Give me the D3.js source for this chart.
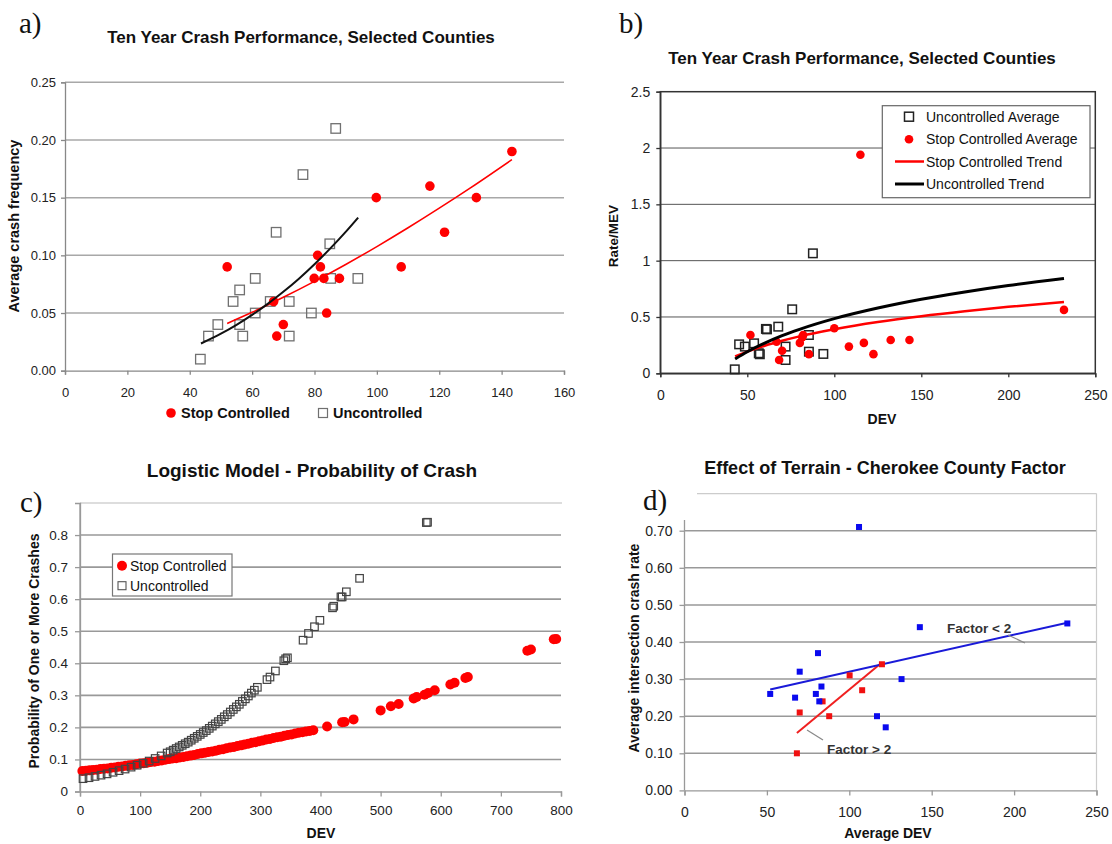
<!DOCTYPE html>
<html><head><meta charset="utf-8">
<script src="https://cdn.jsdelivr.net/npm/d3@7"></script>
<style>body{margin:0;background:#fff}</style></head>
<body>
<script>
// ---------- Panel a data ----------
const aStopX = [52, 66.9, 67.9, 70, 79.9, 81, 81.9, 83, 83.9, 88, 99.8, 107.8, 117, 121.7, 131.9, 143.3];
const aStopY = [0.09, 0.06, 0.03, 0.04, 0.08, 0.10, 0.09, 0.08, 0.05, 0.08, 0.15, 0.09, 0.16, 0.12, 0.15, 0.19];
const aUncX = [43.4, 46, 49, 53.9, 56, 56, 57, 61, 61, 65.8, 67.7, 71.9, 71.9, 76.3, 79, 84.9, 85.2, 86.8, 93.9];
const aUncY = [0.01, 0.03, 0.04, 0.06, 0.07, 0.04, 0.03, 0.08, 0.05, 0.06, 0.12, 0.06, 0.03, 0.17, 0.05, 0.11, 0.08, 0.21, 0.08];
const aStopTrendX = [52, 60, 70, 80, 90, 100, 110, 120, 130, 143.3];
const aStopTrendY = [0.041, 0.0506, 0.0636, 0.0774, 0.0921, 0.1076, 0.1239, 0.1409, 0.1585, 0.183];
const aUncTrendX = [43.6, 50, 55, 60, 65, 70, 75, 80, 85, 90, 94];
const aUncTrendY = [0.0236, 0.0321, 0.0398, 0.0484, 0.0579, 0.0684, 0.0798, 0.0923, 0.1058, 0.1203, 0.1327];
const aXTicks = [0, 20, 40, 60, 80, 100, 120, 140, 160];
const aYTicks = [0, 0.05, 0.10, 0.15, 0.20, 0.25];

// ---------- Panel b data ----------
const bUncX = [42.8, 45.3, 48.6, 53.9, 56.6, 57.2, 60.7, 61.3, 67.8, 72, 72, 75.8, 85.4, 85.4, 87.7, 93.7];
const bUncY = [0.035, 0.257, 0.237, 0.266, 0.178, 0.169, 0.394, 0.39, 0.414, 0.237, 0.118, 0.568, 0.34, 0.192, 1.065, 0.172];
const bStopX = [51.8, 66.8, 68.3, 70, 80.2, 81.6, 82.1, 85.4, 100, 108.4, 115, 117, 122.5, 132.4, 143.2, 232];
const bStopY = [0.34, 0.28, 0.118, 0.2, 0.27, 0.32, 0.34, 0.17, 0.40, 0.237, 1.94, 0.27, 0.17, 0.296, 0.296, 0.563];
const bTrendX = [43, 50, 60, 70, 80, 100, 125, 150, 175, 200, 232];
const bUncTrendY = [0.127, 0.191, 0.268, 0.334, 0.390, 0.485, 0.579, 0.657, 0.722, 0.779, 0.842];
const bStopTrendY = [0.15, 0.193, 0.245, 0.289, 0.328, 0.391, 0.455, 0.507, 0.551, 0.590, 0.632];
const bXTicks = [0, 50, 100, 150, 200, 250];
const bYTicks = [0, 0.5, 1, 1.5, 2, 2.5];
const bLegend = ["Uncontrolled Average", "Stop Controlled Average", "Stop Controlled Trend", "Uncontrolled Trend"];

// ---------- Panel c data ----------
const cStopX = [4, 10, 16, 22, 28, 34, 40, 46, 52, 58, 64, 70, 76, 82, 88, 94, 100, 106, 112, 118, 124, 130, 136, 142, 148, 154, 160, 166, 172, 178, 184, 190, 196, 202, 208, 214, 220, 226, 232, 238, 244, 250, 256, 262, 268, 274, 280, 286, 292, 298, 304, 310, 316, 322, 328, 334, 340, 346, 352, 358, 364, 370, 376, 382, 388,
  411, 436, 440, 455, 500, 517, 530, 555, 560, 573, 579, 590, 616, 623, 641, 645, 744, 750, 788, 792];
const cStopY = [0.064, 0.065, 0.066, 0.067, 0.068, 0.070, 0.071, 0.072, 0.074, 0.075, 0.077, 0.078, 0.080, 0.082, 0.083, 0.085, 0.087, 0.088, 0.090, 0.092, 0.093, 0.095, 0.097, 0.099, 0.101, 0.103, 0.104, 0.106, 0.108, 0.110, 0.112, 0.114, 0.117, 0.119, 0.121, 0.123, 0.125, 0.127, 0.130, 0.132, 0.135, 0.137, 0.139, 0.142, 0.144, 0.147, 0.149, 0.152, 0.154, 0.157, 0.159, 0.162, 0.164, 0.167, 0.169, 0.171, 0.174, 0.176, 0.178, 0.181, 0.183, 0.185, 0.187, 0.189, 0.191,
  0.203, 0.216, 0.217, 0.225, 0.253, 0.266, 0.273, 0.290, 0.295, 0.302, 0.307, 0.316, 0.334, 0.339, 0.354, 0.357, 0.439, 0.443, 0.475, 0.476];
const cUncX = [5, 15, 25, 35, 45, 55, 65, 75, 85, 95, 105, 115, 125, 135, 145, 150, 155, 160, 165, 170, 175, 180, 185, 190, 195, 200, 205, 210, 215, 220, 225, 230, 235, 240, 245, 250, 255, 260, 265, 270, 275, 280, 285, 290, 295,
  311, 316, 325, 339, 342, 345, 371, 380, 390, 399, 420, 422, 434, 436, 443, 465, 576, 578];
const cUncY = [0.040, 0.043, 0.047, 0.051, 0.055, 0.060, 0.065, 0.070, 0.076, 0.082, 0.088, 0.095, 0.103, 0.111, 0.120, 0.124, 0.129, 0.134, 0.139, 0.144, 0.149, 0.154, 0.160, 0.166, 0.172, 0.178, 0.184, 0.190, 0.197, 0.204, 0.211, 0.218, 0.225, 0.233, 0.240, 0.248, 0.256, 0.264, 0.272, 0.281, 0.289, 0.298, 0.307, 0.316, 0.325,
  0.349, 0.357, 0.376, 0.408, 0.414, 0.417, 0.472, 0.493, 0.514, 0.534, 0.573, 0.578, 0.607, 0.607, 0.623, 0.665, 0.839, 0.840];
const cXTicks = [0, 100, 200, 300, 400, 500, 600, 700, 800];
const cYTicks = [0, 0.1, 0.2, 0.3, 0.4, 0.5, 0.6, 0.7, 0.8];

// ---------- Panel d data ----------
const dBlueX = [52, 67.1, 69.9, 81, 79.7, 83.1, 81.8, 105.9, 116.8, 122.1, 131.7, 142.8, 232.3];
const dBlueY = [0.26, 0.25, 0.32, 0.37, 0.26, 0.28, 0.24, 0.71, 0.20, 0.17, 0.30, 0.44, 0.45];
const dRedX = [68.2, 69.9, 83.8, 87.8, 100.2, 107.8, 119.8];
const dRedY = [0.10, 0.21, 0.24, 0.20, 0.31, 0.27, 0.34];
const dBlueTrendX = [52, 232.3];
const dBlueTrendY = [0.272, 0.452];
const dRedTrendX = [68.2, 119.8];
const dRedTrendY = [0.155, 0.345];
const dXTicks = [0, 50, 100, 150, 200, 250];
const dYTicks = [0, 0.1, 0.2, 0.3, 0.4, 0.5, 0.6, 0.7];

// ---------- drawing ----------
const RED = "#ff0000";
const svg = d3.select("body").append("svg")
  .attr("width", 1112).attr("height", 844)
  .style("font-family", '"Liberation Sans", Arial, sans-serif');

const zip = (xs, ys) => xs.map((v, i) => [v, ys[i]]);

function grid(g, x, y, ticks, color, width) {
  g.append("g").selectAll("line").data(ticks.filter(t => t > 0)).join("line")
    .attr("x1", x.range()[0]).attr("x2", x.range()[1])
    .attr("y1", d => y(d)).attr("y2", d => y(d))
    .attr("stroke", color).attr("stroke-width", width);
}
function axis(g, gen, tx, ty, color, fs) {
  const a = g.append("g").attr("transform", `translate(${tx},${ty})`).call(gen);
  a.attr("font-family", null).attr("font-size", null);
  a.select(".domain").attr("stroke", color).attr("stroke-width", 1.3);
  a.selectAll(".tick line").attr("stroke", color).attr("stroke-width", 1.3);
  a.selectAll(".tick text").attr("fill", "#222").style("font-size", fs + "px");
  return a;
}
function text(g, x, y, s, o = {}) {
  const t = g.append("text").attr("x", x).attr("y", y).text(s)
    .attr("text-anchor", o.anchor || "middle")
    .attr("dominant-baseline", "central")
    .style("font-size", (o.size || 13) + "px")
    .style("font-weight", o.bold ? "bold" : "normal")
    .attr("fill", o.fill || "#111");
  if (o.rot) t.attr("transform", `rotate(-90,${x},${y})`);
  if (o.serif) t.style("font-family", '"Liberation Serif", "DejaVu Serif", serif');
  return t;
}
function squares(g, pts, x, y, size, stroke, fill, sw) {
  g.append("g").selectAll("rect").data(pts).join("rect")
    .attr("x", d => x(d[0]) - size / 2).attr("y", d => y(d[1]) - size / 2)
    .attr("width", size).attr("height", size)
    .attr("fill", fill).attr("stroke", stroke).attr("stroke-width", sw);
}
function circles(g, pts, x, y, r, fill) {
  g.append("g").selectAll("circle").data(pts).join("circle")
    .attr("cx", d => x(d[0])).attr("cy", d => y(d[1])).attr("r", r).attr("fill", fill);
}
function line(g, pts, x, y, color, w, curve) {
  g.append("path").datum(pts)
    .attr("d", d3.line().x(d => x(d[0])).y(d => y(d[1])).curve(curve || d3.curveMonotoneX))
    .attr("fill", "none").attr("stroke", color).attr("stroke-width", w);
}

// ===== Panel a =====
{
  const g = svg.append("g");
  const x = d3.scaleLinear().domain([0, 160]).range([65, 564]);
  const y = d3.scaleLinear().domain([0, 0.25]).range([370.7, 82.3]);
  grid(g, x, y, aYTicks, "#a8a8a8", 1.5);
  axis(g, d3.axisLeft(y).tickValues(aYTicks).tickFormat(d3.format(".2f")).tickSize(4).tickPadding(5), x(0), 0, "#888", 13);
  axis(g, d3.axisBottom(x).tickValues(aXTicks).tickSize(4).tickPadding(13), 0, y(0), "#888", 13);
  squares(g, zip(aUncX, aUncY), x, y, 9.5, "#707070", "none", 1.3);
  circles(g, zip(aStopX, aStopY), x, y, 4.8, RED);
  line(g, zip(aStopTrendX, aStopTrendY), x, y, RED, 1.6);
  line(g, zip(aUncTrendX, aUncTrendY), x, y, "#111", 2);
  text(g, 19, 23, "a)", { anchor: "start", size: 29, serif: true });
  text(g, 301, 37, "Ten Year Crash Performance, Selected Counties", { bold: true, size: 17 });
  text(g, 14, 226, "Average crash frequency", { bold: true, size: 14.5, rot: true });
  g.append("circle").attr("cx", 171).attr("cy", 413).attr("r", 4.8).attr("fill", RED);
  text(g, 181, 413, "Stop Controlled", { anchor: "start", bold: true, size: 14.5 });
  g.append("rect").attr("x", 318.5).attr("y", 408.5).attr("width", 9).attr("height", 9).attr("fill", "none").attr("stroke", "#707070").attr("stroke-width", 1.2);
  text(g, 333, 413, "Uncontrolled", { anchor: "start", bold: true, size: 14.5 });
}

// ===== Panel b =====
{
  const g = svg.append("g");
  const x = d3.scaleLinear().domain([0, 250]).range([660.3, 1095.3]);
  const y = d3.scaleLinear().domain([0, 2.5]).range([373.3, 91.7]);
  grid(g, x, y, bYTicks.filter(t => t < 2.5), "#555", 1);
  axis(g, d3.axisLeft(y).tickValues(bYTicks).tickFormat(d3.format("")).tickSize(4).tickPadding(6), x(0), 0, "#333", 14);
  axis(g, d3.axisBottom(x).tickValues(bXTicks).tickSize(4).tickPadding(13), 0, y(0), "#333", 14);
  g.append("rect").attr("x", x(0)).attr("y", y(2.5)).attr("width", x(250) - x(0)).attr("height", y(0) - y(2.5))
    .attr("fill", "none").attr("stroke", "#333").attr("stroke-width", 1.5);
  squares(g, zip(bUncX, bUncY), x, y, 8.5, "#222", "none", 1.5);
  circles(g, zip(bStopX, bStopY), x, y, 4.3, RED);
  line(g, zip(bTrendX, bStopTrendY), x, y, RED, 2.5);
  line(g, zip(bTrendX, bUncTrendY), x, y, "#000", 3);
  text(g, 619, 23, "b)", { anchor: "start", size: 29, serif: true });
  text(g, 862, 58, "Ten Year Crash Performance, Selected Counties", { bold: true, size: 17 });
  text(g, 613, 236, "Rate/MEV", { bold: true, size: 13.5, rot: true });
  text(g, 882, 419, "DEV", { bold: true, size: 14 });
  // legend
  g.append("rect").attr("x", 882.3).attr("y", 105.7).attr("width", 207.7).attr("height", 92)
    .attr("fill", "#fff").attr("stroke", "#666").attr("stroke-width", 1.2);
  const ly = [116.7, 139.3, 161.5, 184];
  g.append("rect").attr("x", 904.5).attr("y", ly[0] - 4.5).attr("width", 9).attr("height", 9).attr("fill", "none").attr("stroke", "#222").attr("stroke-width", 1.5);
  g.append("circle").attr("cx", 909).attr("cy", ly[1]).attr("r", 4.3).attr("fill", RED);
  g.append("line").attr("x1", 895).attr("x2", 924).attr("y1", ly[2]).attr("y2", ly[2]).attr("stroke", RED).attr("stroke-width", 2.5);
  g.append("line").attr("x1", 895).attr("x2", 924).attr("y1", ly[3]).attr("y2", ly[3]).attr("stroke", "#000").attr("stroke-width", 3);
  bLegend.forEach((s, i) => text(g, 926, ly[i], s, { anchor: "start", size: 14 }));
}

// ===== Panel c =====
{
  const g = svg.append("g");
  const x = d3.scaleLinear().domain([0, 800]).range([80, 561]);
  const y = d3.scaleLinear().domain([0, 0.9]).range([791.5, 503]);
  grid(g, x, y, cYTicks, "#999", 1.6);
  g.append("line").attr("x1", x(0)).attr("x2", 562).attr("y1", y(0.9)).attr("y2", y(0.9)).attr("stroke", "#bbb").attr("stroke-width", 1.2);
  axis(g, d3.axisLeft(y).tickValues(cYTicks).tickFormat(d => d === 0 ? "0" : d3.format(".1f")(d)).tickSize(5).tickPadding(7), x(0), 0, "#999", 13.5);
  g.append("line").attr("x1", x(0)).attr("x2", x(0)).attr("y1", y(0.9)).attr("y2", y(0)).attr("stroke", "#999").attr("stroke-width", 1.3);
  axis(g, d3.axisBottom(x).tickValues(cXTicks).tickSize(5).tickPadding(9), 0, y(0), "#999", 13.5);
  circles(g, zip(cStopX, cStopY), x, y, 5, RED);
  squares(g, zip(cUncX, cUncY), x, y, 7.5, "#444", "none", 1.2);
  text(g, 20, 502, "c)", { anchor: "start", size: 29, serif: true });
  text(g, 312, 470, "Logistic Model - Probability of Crash", { bold: true, size: 19 });
  text(g, 34, 651, "Probability of One or More Crashes", { bold: true, size: 14, rot: true });
  text(g, 321, 833, "DEV", { bold: true, size: 14 });
  g.append("rect").attr("x", 112.5).attr("y", 554).attr("width", 119.5).attr("height", 42)
    .attr("fill", "#fff").attr("stroke", "#777").attr("stroke-width", 1.2);
  g.append("circle").attr("cx", 122).attr("cy", 565.7).attr("r", 5).attr("fill", RED);
  text(g, 130, 565.7, "Stop Controlled", { anchor: "start", size: 14 });
  g.append("rect").attr("x", 118).attr("y", 581.7).attr("width", 8).attr("height", 8).attr("fill", "none").attr("stroke", "#555").attr("stroke-width", 1.1);
  text(g, 130, 585.7, "Uncontrolled", { anchor: "start", size: 14 });
}

// ===== Panel d =====
{
  const g = svg.append("g");
  const x = d3.scaleLinear().domain([0, 250]).range([684.5, 1096.5]);
  const y = d3.scaleLinear().domain([0, 0.8]).range([790.4, 493.6]);
  grid(g, x, y, dYTicks, "#999", 1.5);
  g.append("line").attr("x1", 697).attr("x2", x(250)).attr("y1", y(0.8)).attr("y2", y(0.8)).attr("stroke", "#ccc").attr("stroke-width", 1.2);
  g.append("line").attr("x1", x(250)).attr("x2", x(250)).attr("y1", y(0.8)).attr("y2", y(0)).attr("stroke", "#ccc").attr("stroke-width", 1.2);
  const ya = axis(g, d3.axisLeft(y).tickValues(dYTicks).tickFormat(d3.format(".2f")).tickSize(5).tickPadding(7), x(0), 0, "#999", 14);
  ya.select(".domain").remove();
  g.append("line").attr("x1", x(0)).attr("x2", x(0)).attr("y1", 520).attr("y2", y(0)).attr("stroke", "#999").attr("stroke-width", 1.3);
  axis(g, d3.axisBottom(x).tickValues(dXTicks).tickSize(5).tickPadding(12), 0, y(0), "#999", 14);
  line(g, zip(dRedTrendX, dRedTrendY), x, y, "#f02020", 2, d3.curveLinear);
  line(g, zip(dBlueTrendX, dBlueTrendY), x, y, "#1a1ad8", 2, d3.curveLinear);
  squares(g, zip(dRedX, dRedY), x, y, 6, "none", "#f01010", 0);
  squares(g, zip(dBlueX, dBlueY), x, y, 6, "none", "#0a0aee", 0);
  text(g, 643, 500, "d)", { anchor: "start", size: 29, serif: true });
  text(g, 885, 468, "Effect of Terrain - Cherokee County Factor", { bold: true, size: 18 });
  text(g, 634, 648, "Average intersection crash rate", { bold: true, size: 14, rot: true });
  text(g, 888, 833, "Average DEV", { bold: true, size: 14 });
  text(g, 947, 628, "Factor < 2", { anchor: "start", bold: true, size: 13.5, fill: "#333" });
  g.append("line").attr("x1", 1008).attr("y1", 635).attr("x2", 1025).attr("y2", 643).attr("stroke", "#888").attr("stroke-width", 1.2);
  text(g, 827, 749, "Factor > 2", { anchor: "start", bold: true, size: 13.5, fill: "#333" });
  g.append("line").attr("x1", 807).attr("y1", 730).attr("x2", 823).attr("y2", 740).attr("stroke", "#888").attr("stroke-width", 1.2);
}
</script>
</body></html>
